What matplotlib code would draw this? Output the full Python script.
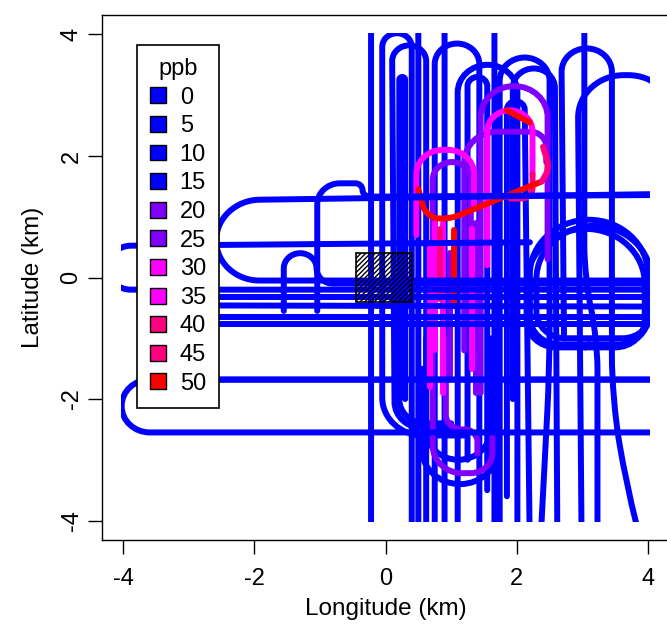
import numpy as np
import matplotlib
matplotlib.use("Agg")
import matplotlib.pyplot as plt
from matplotlib.path import Path
from matplotlib.patches import PathPatch, Rectangle, Patch

plt.rcParams['font.family'] = ['Liberation Sans', 'DejaVu Sans']

# ozone levels shown in the key and the colour used for each bin
ppb_levels = [0, 5, 10, 15, 20, 25, 30, 35, 40, 45, 50]
level_colors = ['#0000FF', '#0000FF', '#0000FF', '#0000FF', '#7F00FF', '#7F00FF',
                '#FF00FF', '#FF00FF', '#FF007F', '#FF007F', '#FF0000']

# flight legs: corner waypoints (km from the site), turns get rounded when drawn
# north-south racetracks
ns_legs = [
    [(-0.22, -4.6), (-0.22, 4.6), (0.5, 4.6), (0.5, -4.6)],
    [(1.2, -2.6), (-0.05, -2.6), (-0.05, 4.02), (0.4, 4.02), (0.4, -4.6)],
    [(1.0, -2.48), (0.14, -2.48), (0.1, 3.82), (0.62, 3.82), (0.62, -4.6)],
    [(1.0, -2.4), (0.21, -2.4), (0.21, 3.3), (0.3, 3.3), (0.3, -2.0)],
    [(0.75, -4.6), (0.75, 3.85), (1.43, 3.85), (1.43, -4.6)],
    [(0.9, -4.6), (0.9, 4.6), (1.66, 4.6), (1.66, -4.6)],
    [(1.1, -4.6), (1.1, 3.5), (2.01, 3.5), (2.01, -4.6)],
    [(1.25, -3.0), (1.25, 3.3), (1.55, 3.3), (1.55, -3.5)],
    [(1.74, -4.6), (1.74, 3.62), (2.5, 3.62), (2.5, -1.5), (2.35, -4.6)],
    [(1.94, -2.0), (1.94, 3.44), (2.58, 3.44), (2.62, -4.6)],
    [(1.85, -3.6), (1.85, 2.9), (2.12, 2.9), (2.2, -4.6)],
    [(2.72, -1.0), (2.68, 3.77), (3.45, 3.77), (3.45, -2.0), (3.67, -3.4), (3.95, -4.6)],
    [(2.99, -4.6), (2.93, 3.33), (4.4, 3.33), (4.4, -4.6)],
    [(3.03, 4.6), (3.03, 0.0), (3.23, -1.0), (3.23, -4.6)],
    [(0.62, -1.0), (0.62, -3.0), (1.6, -3.0), (1.6, -1.0)],
    [(0.55, -1.5), (0.55, -3.4), (1.72, -3.4), (1.72, -2.0)],
]
ns_ppb = [5, 5, 10, 5, 5, 5, 10, 5, 5, 5, 10, 5, 5, 10, 5, 5]

# east-west legs and turns on the west side
ew_legs = [
    [(4.6, 1.38), (-2.58, 1.27), (-2.58, -0.05), (4.6, -0.05)],
    [(-1.04, -0.55), (-1.04, 1.55), (-0.35, 1.55), (-0.35, 1.33), (4.6, 1.36)],
    [(2.2, 0.58), (-4.24, 0.52), (-4.24, -0.2), (4.6, -0.2)],
    [(4.6, -0.65), (-3.1, -0.65), (-3.1, -1.68), (4.6, -1.68)],
    [(4.6, -1.68), (-4.02, -1.68), (-4.02, -2.55), (4.6, -2.55)],
    [(-1.55, -0.55), (-1.55, 0.4), (-1.05, 0.4), (-1.05, -0.1), (4.6, -0.1)],
    [(-2.7, -0.32), (4.6, -0.32)],
    [(-2.6, -0.46), (4.6, -0.48)],
    [(-2.6, -0.76), (4.6, -0.76)],
]
ew_radius = [0.66, 0.35, 0.36, 0.5, 0.43, 0.25, 0.3, 0.3, 0.3]

# orbits east of the site: west, east, south, north extents
orbits = [
    (2.2, 4.0, -1.1, 0.95),
    (2.3, 4.05, -1.0, 0.85),
    (2.15, 3.95, -1.15, 0.8),
]

# legs with raised ozone
plume_legs = [
    [(1.63, -2.55), (1.63, -3.22), (0.72, -3.22), (0.72, 1.9), (1.3, 1.9), (1.3, -0.6)],
    [(1.45, -1.9), (1.45, 3.15), (2.47, 3.15), (2.47, 0.3)],
    [(1.4, -2.9), (1.4, -2.5), (0.92, -2.5), (0.92, -1.0)],
    [(1.2, -1.2), (1.2, 2.4), (2.45, 2.4), (2.45, 1.9)],
    [(1.38, -1.9), (1.38, 0.9)],
    [(0.98, -1.6), (0.98, 0.4)],
    [(1.55, 0.2), (1.55, 2.75), (2.24, 2.75), (2.24, 1.7)],
    [(2.24, 1.7), (2.24, 1.3), (1.9, 1.3)],
    [(0.47, 0.7), (0.47, 2.1), (1.35, 2.1), (1.35, 1.2)],
    [(0.76, -1.2), (0.76, 0.9)],
    [(0.68, -1.8), (0.68, 0.5)],
    [(0.88, -1.9), (0.88, 0.9)],
    [(0.83, -0.35), (0.83, 0.8)],
    [(1.32, -1.5), (1.32, 0.8)],
    [(1.05, -0.45), (1.05, 0.78)],
    [(0.5, 1.45), (0.62, 1.0), (0.95, 0.95), (2.38, 1.58)],
    [(2.38, 1.58), (2.5, 1.8), (2.4, 2.15)],
    [(1.85, 2.75), (2.2, 2.55)],
]
plume_ppb = [20, 25, 20, 20, 20, 25, 30, 45, 30, 30, 35, 35, 40, 30, 50, 50, 45, 50]
plume_radius = [0.45, 0.55, 0.3, 0.5, 0.3, 0.3, 0.4, 0.2, 0.4, 0.3, 0.3, 0.3, 0.3, 0.3,
                0.3, 0.2, 0.2, 0.2]

# source area
site_box = (-0.45, -0.4, 0.4, 0.4)


def track_path(pts, r):
    pts = np.asarray(pts, float)
    verts = [pts[0]]
    codes = [Path.MOVETO]
    k = 0.552
    for p0, p1, p2 in zip(pts[:-2], pts[1:-1], pts[2:]):
        d1 = p1 - p0
        d2 = p2 - p1
        l1 = np.hypot(*d1)
        l2 = np.hypot(*d2)
        rr = min(r, l1 / 2, l2 / 2)
        a = p1 - d1 / l1 * rr
        b = p1 + d2 / l2 * rr
        verts += [a, a + (p1 - a) * k, b + (p1 - b) * k, b]
        codes += [Path.LINETO, Path.CURVE4, Path.CURVE4, Path.CURVE4]
    verts.append(pts[-1])
    codes.append(Path.LINETO)
    return Path(verts, codes)


def ppb_color(v):
    return level_colors[ppb_levels.index(5 * int(v // 5))]


fig = plt.figure(figsize=(6.67, 6.24), dpi=100)
ax = fig.add_axes([102 / 667, 84 / 624, 567 / 667, 525 / 624])
ax.set_xlim(-4.32, 4.32)
ax.set_ylim(-4.32, 4.32)

clip = Rectangle((-4.03, -4.03), 8.06, 8.06, transform=ax.transData)
lw = 4.3


def draw(pts, r, v, z):
    p = PathPatch(track_path(pts, r), fill=False, edgecolor=ppb_color(v), lw=lw,
                  capstyle='round', joinstyle='round', zorder=z)
    ax.add_patch(p)
    p.set_clip_path(clip)


for pts, v in zip(ns_legs, ns_ppb):
    draw(pts, 0.7, v, 1)

for x0, x1, y0, y1 in orbits:
    xm = (x0 + x1) / 2
    draw([(xm, y0), (x1, y0), (x1, y1), (x0, y1), (x0, y0), (xm, y0)], 1.0, 5, 1)

for pts, v, r in zip(plume_legs, plume_ppb, plume_radius):
    draw(pts, r, v, 2)

for pts, r in zip(ew_legs, ew_radius):
    draw(pts, r, 5, 3)

x0, y0, x1, y1 = site_box
ax.add_patch(Rectangle((x0, y0), x1 - x0, y1 - y0, fill=False, hatch='///////',
                       edgecolor='black', lw=1.2, zorder=4))

ax.set_xticks([-4, -2, 0, 2, 4])
ax.set_yticks([-4, -2, 0, 2, 4])
ax.set_xticklabels(['-4', '-2', '0', '2', '4'])
ax.set_yticklabels(['-4', '-2', '0', '2', '4'], rotation=90, va='center')
ax.tick_params(length=10, width=1, labelsize=17, direction='out')
ax.tick_params(axis='x', pad=10)
ax.tick_params(axis='y', pad=4)
for s in ax.spines.values():
    s.set_linewidth(1)
ax.set_xlabel('Longitude (km)', fontsize=17.5, labelpad=6)
ax.set_ylabel('Latitude (km)', fontsize=17.5, labelpad=12)

handles = [Patch(facecolor=c, edgecolor='black', lw=1) for c in level_colors]
leg = ax.legend(handles, [str(v) for v in ppb_levels], title='ppb', loc='upper left',
                bbox_to_anchor=(137 / 667, 1 - 45 / 624), bbox_transform=fig.transFigure,
                fontsize=17, title_fontsize=17, frameon=True, fancybox=False,
                framealpha=1, edgecolor='black', borderaxespad=0, labelspacing=0.28,
                handlelength=0.66, handleheight=0.66, handletextpad=0.6, borderpad=0.55)
leg.get_frame().set_linewidth(1.2)
leg.set_zorder(10)

fig.savefig('out.png', dpi=100)
